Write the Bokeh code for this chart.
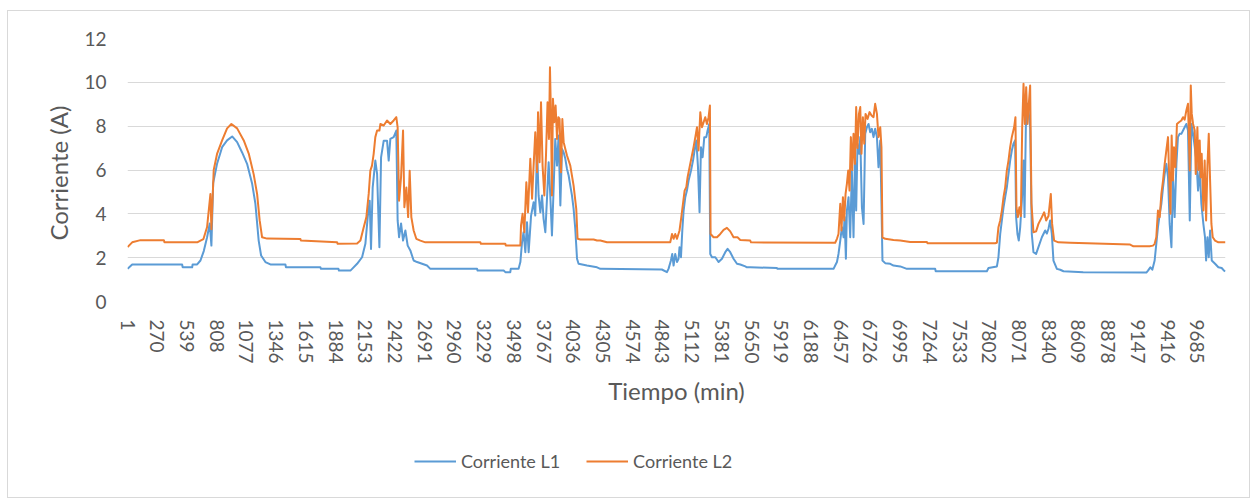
from bokeh.plotting import figure
from bokeh.layouts import column
from bokeh.models import FixedTicker, Legend, LegendItem, Range1d
from bokeh.embed import file_html
from bokeh.resources import INLINE

# ---- data (minute index, current in A) ----
t_l1 = [1, 43, 495, 500, 586, 590, 631, 661, 691, 721, 745, 760, 776, 812, 857, 902, 948, 993,
        1038, 1083, 1129, 1158, 1188, 1210, 1249, 1294, 1430, 1435, 1747, 1752, 1910, 1915, 2018,
        2034, 2079, 2124, 2154, 2175, 2193, 2205, 2220, 2244, 2260, 2281, 2296, 2320, 2350, 2365,
        2380, 2410, 2434, 2446, 2459, 2477, 2495, 2516, 2537, 2561, 2591, 2622, 2667, 2712, 2742,
        3165, 3170, 3406, 3421, 3466, 3470, 3541, 3557, 3572, 3586, 3602, 3617, 3632, 3654, 3677,
        3692, 3708, 3722, 3738, 3753, 3767, 3783, 3798, 3813, 3828, 3843, 3858, 3873, 3889, 3903,
        3919, 3934, 3949, 3964, 3979, 3994, 4009, 4024, 4039, 4054, 4070, 4084, 4160, 4251, 4281,
        4838, 4884, 4899, 4920, 4932, 4944, 4959, 4975, 4989, 4998, 5011, 5023, 5035, 5050, 5065,
        5080, 5102, 5120, 5134, 5150, 5165, 5179, 5192, 5207, 5222, 5240, 5252, 5267, 5276, 5292,
        5322, 5351, 5382, 5412, 5433, 5457, 5487, 5518, 5548, 5593, 5608, 5638, 5880, 5885, 6392,
        6407, 6423, 6437, 6453, 6468, 6483, 6492, 6504, 6513, 6528, 6543, 6558, 6573, 6586, 6597,
        6609, 6625, 6634, 6649, 6664, 6679, 6694, 6709, 6724, 6739, 6754, 6769, 6785, 6799, 6815,
        6826, 6835, 6860, 6905, 6935, 6996, 7056, 7312, 7317, 7780, 7795, 7871, 7885, 7901, 7916,
        7931, 7946, 7961, 7976, 7991, 8006, 8021, 8036, 8045, 8057, 8069, 8082, 8097, 8112, 8121,
        8133, 8145, 8157, 8172, 8187, 8202, 8226, 8247, 8278, 8308, 8323, 8338, 8353, 8368, 8383,
        8414, 8444, 8474, 8652, 9224, 9239, 9260, 9278, 9299, 9314, 9329, 9345, 9360, 9375, 9390,
        9405, 9420, 9435, 9451, 9465, 9480, 9496, 9510, 9525, 9541, 9556, 9571, 9586, 9601, 9617,
        9632, 9647, 9662, 9677, 9692, 9707, 9722, 9740, 9755, 9765, 9777, 9789, 9801, 9816, 9846,
        9876, 9906, 9927, 9940]
l1 = [1.49, 1.69, 1.69, 1.56, 1.56, 1.69, 1.69, 1.87, 2.3, 2.93, 3.56, 2.55, 5.4, 6.3, 7.04, 7.35, 7.53, 7.27,
      6.8, 6.28, 5.37, 4.47, 2.78, 2.1, 1.8, 1.69, 1.69, 1.56, 1.56, 1.49, 1.49, 1.41, 1.41,
      1.49, 1.72, 2.02, 2.63, 3.85, 4.6, 2.4, 5.2, 6.43, 5.82, 2.48, 6.58, 7.34, 7.34, 6.43,
      7.42, 7.5, 7.8, 3.7, 2.93, 3.56, 2.78, 3.24, 2.55, 2.33, 1.87, 1.8, 1.72, 1.64, 1.49,
      1.49, 1.41, 1.41, 1.34, 1.34, 1.49, 1.49, 1.8, 2.7, 3.16, 2.25, 3.62, 2.25, 3.92, 4.53,
      3.92, 6.96, 4.84, 4.07, 4.84, 3.77, 3.16, 4.69, 6.35, 4.84, 3.01, 5.14, 7.42, 6.2, 7.57,
      4.38, 6.96, 6.8, 6.51, 6.05, 5.75, 5.29, 4.84, 4.23, 3.32, 1.95, 1.72, 1.64, 1.56, 1.49,
      1.46, 1.34, 1.5, 1.87, 2.17, 1.64, 2.17, 1.8, 1.95, 2.48, 2.02, 3.24, 4.15, 4.76, 5.06,
      5.52, 5.98, 6.43, 6.89, 7.35, 6.13, 4.07, 7.04, 6.58, 7.5, 7.5, 7.8, 8.1, 2.17, 2.02,
      2.02, 1.8, 1.95, 2.25, 2.4, 2.25, 1.95, 1.72, 1.69, 1.6, 1.56, 1.56, 1.53, 1.49, 1.49,
      1.64, 1.8, 2.17, 2.78, 3.39, 2.93, 3.85, 1.95, 4.15, 4.76, 2.93, 5.98, 2.93, 6.58, 4.15,
      7.2, 6.74, 7.5, 4.3, 3.54, 7.65, 7.95, 8.1, 7.72, 7.88, 7.5, 7.88, 7.5, 6.13, 7.35,
      4.46, 1.87, 1.75, 1.72, 1.64, 1.6, 1.49, 1.49, 1.38, 1.38, 1.53, 1.6, 2.02, 3.08, 3.7,
      4.3, 4.76, 5.21, 5.82, 6.43, 6.89, 7.2, 7.35, 3.85, 3.08, 2.78, 3.39, 4.6, 6.43, 3.85,
      7.95, 9.02, 8.72, 7.95, 3.08, 2.25, 2.17, 2.48, 2.93, 3.24, 3.1, 3.32, 3.7, 3.1, 1.87,
      1.49, 1.45, 1.38, 1.34, 1.32, 1.41, 1.56, 1.45, 1.87, 2.63, 3.39, 4.0, 4.46, 5.21, 5.82,
      6.28, 5.67, 3.54, 2.48, 5.67, 3.85, 6.28, 7.5, 7.65, 7.65, 7.8, 7.95, 8.1, 7.8, 3.7,
      8.1, 7.65, 7.04, 6.43, 5.06, 5.98, 4.46, 3.54, 2.93, 1.87, 2.93, 2.02, 3.24, 1.87, 1.72,
      1.56, 1.53, 1.41, 1.38]

t_l2 = [1, 43, 118, 330, 335, 631, 661, 688, 721, 751, 760, 781, 812, 857, 902, 941, 993, 1053,
        1098, 1143, 1174, 1197, 1219, 1264, 1566, 1570, 1898, 1903, 2079, 2109, 2139, 2163, 2184,
        2199, 2214, 2229, 2244, 2260, 2281, 2290, 2320, 2350, 2380, 2410, 2434, 2446, 2459, 2477,
        2495, 2507, 2525, 2541, 2555, 2570, 2591, 2615, 2652, 2697, 3195, 3200, 3421, 3425, 3557,
        3563, 3577, 3593, 3611, 3626, 3647, 3663, 3677, 3692, 3708, 3717, 3731, 3744, 3758, 3774,
        3789, 3803, 3816, 3825, 3834, 3843, 3852, 3864, 3876, 3889, 3901, 3912, 3925, 3937, 3949,
        3964, 3979, 4009, 4039, 4063, 4075, 4100, 4220, 4251, 4281, 4341, 4914, 4930, 4944, 4959,
        4975, 4998, 5014, 5029, 5044, 5059, 5071, 5089, 5107, 5125, 5141, 5156, 5170, 5186, 5201,
        5216, 5231, 5246, 5261, 5273, 5279, 5306, 5337, 5367, 5397, 5427, 5457, 5487, 5523, 5548,
        5638, 5645, 6407, 6423, 6437, 6453, 6464, 6477, 6489, 6501, 6513, 6525, 6537, 6549, 6561,
        6573, 6586, 6597, 6609, 6622, 6634, 6645, 6658, 6670, 6682, 6700, 6718, 6736, 6754, 6769,
        6785, 6799, 6815, 6826, 6835, 6860, 6935, 6996, 7086, 7237, 7242, 7855, 7871, 7885, 7901,
        7916, 7931, 7946, 7961, 7976, 7991, 8006, 8027, 8039, 8048, 8061, 8075, 8088, 8100, 8112,
        8124, 8136, 8148, 8160, 8172, 8184, 8202, 8226, 8247, 8278, 8299, 8317, 8338, 8359, 8371,
        8389, 8428, 8534, 9077, 9107, 9254, 9284, 9299, 9314, 9329, 9345, 9360, 9375, 9390, 9405,
        9420, 9429, 9442, 9453, 9465, 9474, 9487, 9501, 9519, 9541, 9556, 9571, 9586, 9601, 9617,
        9626, 9635, 9647, 9662, 9671, 9686, 9695, 9707, 9716, 9725, 9740, 9752, 9765, 9777, 9789,
        9801, 9813, 9825, 9846, 9876, 9940]
l2 = [2.48, 2.7, 2.8, 2.8, 2.7, 2.7, 2.78, 2.85, 3.4, 4.9, 3.3, 6.0, 6.75, 7.35, 7.9, 8.1, 7.9, 7.35,
      6.75, 5.8, 4.9, 3.7, 2.93, 2.87, 2.85, 2.78, 2.7, 2.63, 2.65, 2.78, 3.39, 3.85, 4.91,
      5.97, 6.2, 6.74, 7.5, 7.8, 7.8, 8.1, 8.03, 8.26, 8.1, 8.26, 8.41, 7.95, 4.6, 5.67,
      7.8, 4.3, 5.2, 3.85, 5.97, 3.85, 3.24, 2.86, 2.78, 2.7, 2.7, 2.63, 2.63, 2.55, 2.55,
      3.47, 4.0, 3.16, 5.44, 4.07, 6.51, 4.69, 6.2, 7.72, 5.9, 8.64, 6.35, 9.09, 6.2, 4.84,
      6.66, 9.09, 7.42, 10.69, 8.49, 4.84, 9.25, 8.18, 8.94, 7.42, 8.41, 8.33, 5.9, 8.33, 7.27,
      6.96, 6.66, 6.2, 5.29, 4.23, 2.86, 2.83, 2.83, 2.78, 2.78, 2.7, 2.7, 3.08, 2.86, 3.08,
      2.86, 3.24, 3.85, 4.46, 5.06, 5.21, 5.67, 6.13, 6.58, 7.04, 7.5, 7.95, 6.89, 8.64, 7.95,
      8.18, 8.41, 8.1, 8.41, 8.94, 3.08, 2.93, 2.93, 3.08, 3.27, 3.36, 3.2, 2.93, 2.93, 2.81,
      2.78, 2.7, 2.68, 2.86, 3.08, 4.46, 3.24, 4.76, 3.7, 4.91, 5.37, 5.98, 5.06, 7.5, 6.0,
      7.65, 6.28, 8.87, 7.0, 8.56, 8.87, 6.74, 8.41, 7.2, 8.56, 8.33, 8.64, 8.49, 8.41, 9.02,
      8.56, 7.5, 7.95, 7.04, 2.93, 2.86, 2.81, 2.78, 2.72, 2.72, 2.66, 2.66, 2.68, 3.39, 3.7,
      4.15, 4.76, 5.21, 5.98, 6.43, 7.04, 7.5, 7.95, 8.41, 4.3, 3.85, 4.3, 3.9, 7.95, 9.93,
      8.1, 9.78, 8.1, 9.02, 9.86, 4.46, 3.16, 3.2, 3.54, 3.85, 4.07, 3.7, 3.9, 4.91, 3.54,
      2.78, 2.7, 2.68, 2.6, 2.52, 2.52, 2.55, 2.63, 2.93, 4.15, 3.85, 4.91, 5.52, 6.28, 6.89,
      7.5, 5.98, 4.0, 7.57, 5.52, 7.04, 6.13, 8.1, 8.18, 8.26, 8.41, 8.3, 8.72, 9.02, 5.98,
      9.86, 8.56, 8.1, 7.8, 5.82, 7.95, 6.0, 7.35, 5.67, 6.74, 4.15, 6.43, 3.7, 6.2, 7.65,
      5.52, 3.54, 2.93, 2.78, 2.7, 2.7]

x_ticks = [1, 270, 539, 808, 1077, 1346, 1615, 1884, 2153, 2422, 2691, 2960, 3229, 3498, 3767,
           4036, 4305, 4574, 4843, 5112, 5381, 5650, 5919, 6188, 6457, 6726, 6995, 7264, 7533,
           7802, 8071, 8340, 8609, 8878, 9147, 9416, 9685]
y_ticks = [0, 2, 4, 6, 8, 10, 12]
n_points = 9940

FONT = "Lato"
TXT = "#595959"
C1 = "#5B9BD5"
C2 = "#ED7D31"

# ---- main chart ----
p = figure(width=1241, height=440, output_backend="svg", toolbar_location=None,
           x_range=Range1d(0.5, n_points + 0.5), y_range=Range1d(0, 12),
           min_border_left=119, min_border_right=24, min_border_top=27, min_border_bottom=150)
p.outline_line_color = None
p.background_fill_color = "white"
p.border_fill_color = "white"

p.line(t_l1, l1, line_color=C1, line_width=2, line_join="round")
p.line(t_l2, l2, line_color=C2, line_width=2, line_join="round")

p.xgrid.visible = False
p.ygrid.grid_line_color = "#D9D9D9"
p.ygrid.grid_line_width = 1
p.ygrid.ticker = FixedTicker(ticks=y_ticks)

xa = p.xaxis[0]
xa.ticker = FixedTicker(ticks=x_ticks)
xa.major_label_overrides = {v: str(v) for v in x_ticks}
xa.major_label_orientation = "vertical"
xa.axis_line_color = None
xa.major_tick_line_color = None
xa.minor_tick_line_color = None
xa.major_label_standoff = 12
xa.major_label_text_font = FONT
xa.major_label_text_font_size = "19px"
xa.major_label_text_color = TXT
xa.axis_label = "Tiempo (min)"
xa.axis_label_text_font = FONT
xa.axis_label_text_font_size = "24px"
xa.axis_label_text_font_style = "normal"
xa.axis_label_text_color = TXT
xa.axis_label_standoff = 9

ya = p.yaxis[0]
ya.ticker = FixedTicker(ticks=y_ticks)
ya.axis_line_color = None
ya.major_tick_line_color = None
ya.minor_tick_line_color = None
ya.major_label_standoff = 15
ya.major_label_text_font = FONT
ya.major_label_text_font_size = "19px"
ya.major_label_text_color = TXT
ya.axis_label = "Corriente  (A)"
ya.axis_label_text_font = FONT
ya.axis_label_text_font_size = "24px"
ya.axis_label_text_font_style = "normal"
ya.axis_label_text_color = TXT
ya.axis_label_standoff = 8

# ---- legend strip under the chart (its frame is aligned with the chart frame) ----
pl = figure(width=1241, height=46, output_backend="svg", toolbar_location=None,
            x_axis_type=None, y_axis_type=None, x_range=Range1d(0, 1), y_range=Range1d(0, 1),
            min_border_left=0, min_border_right=0, min_border_top=0, min_border_bottom=0)
pl.outline_line_color = None
pl.background_fill_color = "white"
pl.border_fill_color = "white"
# legend-only renderers: their points lie outside the strip's ranges, so only the keys show
g1 = pl.line([-5, -4], [-5, -4], line_color=C1, line_width=2)
g2 = pl.line([-5, -4], [-5, -4], line_color=C2, line_width=2)
legend = Legend(items=[LegendItem(label="Corriente L1", renderers=[g1]),
                       LegendItem(label="Corriente L2", renderers=[g2])],
                orientation="horizontal", location=(287, 25),
                glyph_width=42, glyph_height=20, label_height=20, label_standoff=5,
                spacing=26, padding=0, margin=0, border_line_color=None,
                background_fill_alpha=0, label_text_font=FONT,
                label_text_font_size="18px", label_text_color=TXT)
pl.add_layout(legend, "center")

layout = column(p, pl, spacing=0)
layout.styles = {"border": "1px solid #D9D9D9", "margin-left": "7px", "margin-top": "10px"}

open("out.html", "w").write(file_html(layout, INLINE))
